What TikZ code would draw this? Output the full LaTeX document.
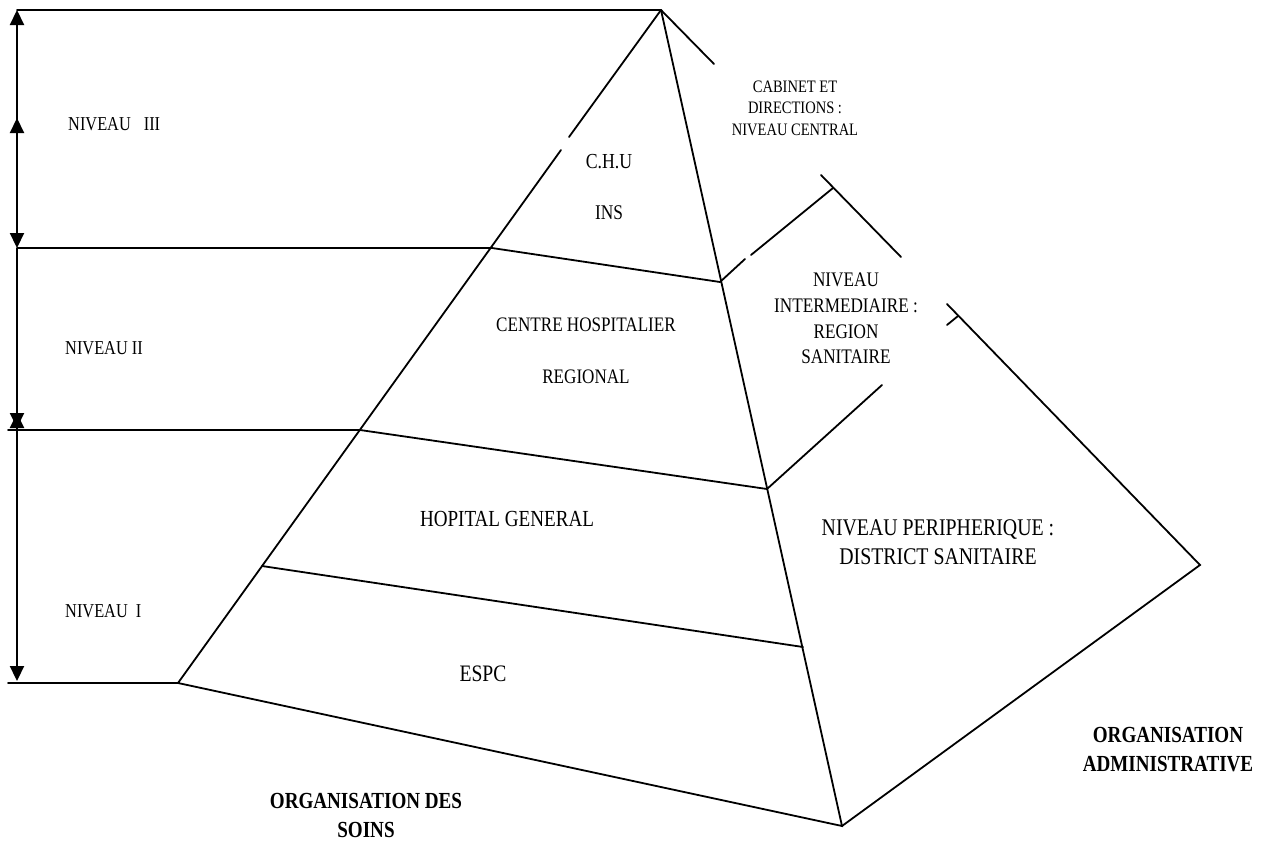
\documentclass[tikz,border=0pt]{standalone}
\usepackage{fontspec}
\setmainfont{Liberation Serif}[FakeStretch=0.83]
\usetikzlibrary{arrows.meta}
\begin{document}
\begin{tikzpicture}[x=1pt,y=-1pt,
  edge/.style={line width=1.8pt, line cap=round},
  dim/.style={line width=2.2pt, -{Triangle[length=15pt,width=14pt]}},
  dimboth/.style={line width=2.2pt, {Triangle[length=15pt,width=14pt]}-{Triangle[length=15pt,width=14pt]}},
  lvl/.style={inner sep=0pt, anchor=west, font=\fontsize{19.7}{22}\selectfont},
  lbl/.style={inner sep=0pt, align=center},
  org/.style={inner sep=0pt, align=center, font=\fontsize{23}{29}\selectfont\bfseries}]
\useasboundingbox (0,0) rectangle (1270,844);
% key points
\coordinate (A) at (661,10);
\coordinate (L3) at (492,248); \coordinate (R3) at (720,282);
\coordinate (L2) at (360,430); \coordinate (R2) at (767,489);
\coordinate (L1) at (262,566); \coordinate (R1) at (803,647);
\coordinate (L0) at (178,683); \coordinate (R0) at (842,826);
\coordinate (BR) at (1200,565);
\coordinate (CT) at (947,304);
\coordinate (G1) at (569,137); \coordinate (G2) at (561,150);
\coordinate (AR) at (714,64);
\coordinate (P1) at (745,259); \coordinate (P2) at (751,255);
\coordinate (RG) at (833,188);
\coordinate (S1) at (821,175); \coordinate (S2) at (901,257);
\coordinate (F1) at (882,385);
\coordinate (T1) at (947,325); \coordinate (T2) at (958,316);
\coordinate (H0) at (17,10); \coordinate (H3) at (17,248);
\coordinate (H2) at (8,430); \coordinate (H1) at (8,683);
% pyramid front
\draw[edge] (A) -- (G1);
\draw[edge] (G2) -- (L0) -- (R0) -- (A);
\draw[edge] (L3) -- (R3);
\draw[edge] (L2) -- (R2);
\draw[edge] (L1) -- (R1);
% right faces (partly hidden)
\draw[edge] (A) -- (AR);
\draw[edge] (R3) -- (P1);
\draw[edge] (P2) -- (RG);
\draw[edge] (S1) -- (S2);
\draw[edge] (R2) -- (F1);
\draw[edge] (T1) -- (T2);
\draw[edge] (CT) -- (BR) -- (R0);
% horizontal level lines
\draw[edge] (H0) -- (A);
\draw[edge] (H3) -- (L3);
\draw[edge] (H2) -- (L2);
\draw[edge] (H1) -- (L0);
% level arrows
\coordinate (V0) at (17,10); \coordinate (V1) at (17,118);
\coordinate (V2) at (17,248); \coordinate (V3) at (17,428);
\coordinate (V4) at (17,413); \coordinate (V5) at (17,681);
\coordinate (V6) at (17,200);
\draw[dimboth] (V0) -- (V2);
\draw[dim] (V6) -- (V1);
\draw[dim] (V2) -- (V3);
\draw[dimboth] (V4) -- (V5);
% labels
\node[lvl] (n3) at (68,124) {NIVEAU\hspace{13pt}III};
\node[lvl] (n2) at (65,348) {NIVEAU II};
\node[lvl] (n1) at (65,611) {NIVEAU\hspace{8pt}I};
\node[lbl, font=\fontsize{21.4}{24}\selectfont] (chu) at (609,162) {C.H.U};
\node[lbl, font=\fontsize{20.9}{24}\selectfont] (ins) at (609,213) {INS};
\node[lbl, font=\fontsize{17.5}{21.5}\selectfont] (cab) at (795,108) {CABINET ET\\DIRECTIONS :\\NIVEAU CENTRAL};
\node[lbl, font=\fontsize{20.6}{24}\selectfont] (chr) at (586,325) {CENTRE HOSPITALIER};
\node[lbl, font=\fontsize{20.6}{24}\selectfont] (reg) at (586,377) {REGIONAL};
\node[lbl, font=\fontsize{23}{26}\selectfont] (hg) at (507,519) {HOPITAL GENERAL};
\node[lbl, font=\fontsize{23.6}{26}\selectfont] (espc) at (483,674) {ESPC};
\node[lbl, font=\fontsize{20.7}{25.7}\selectfont] (inter) at (846,318.5) {NIVEAU\\INTERMEDIAIRE :\\REGION\\SANITAIRE};
\node[lbl, font=\fontsize{23.9}{29}\selectfont] (peri) at (938,542.5) {NIVEAU PERIPHERIQUE :\\DISTRICT SANITAIRE};
\node[org] (soins) at (366,815) {ORGANISATION DES\\SOINS};
\node[org] (admin) at (1168,750) {ORGANISATION\\ADMINISTRATIVE};
\end{tikzpicture}
\end{document}
